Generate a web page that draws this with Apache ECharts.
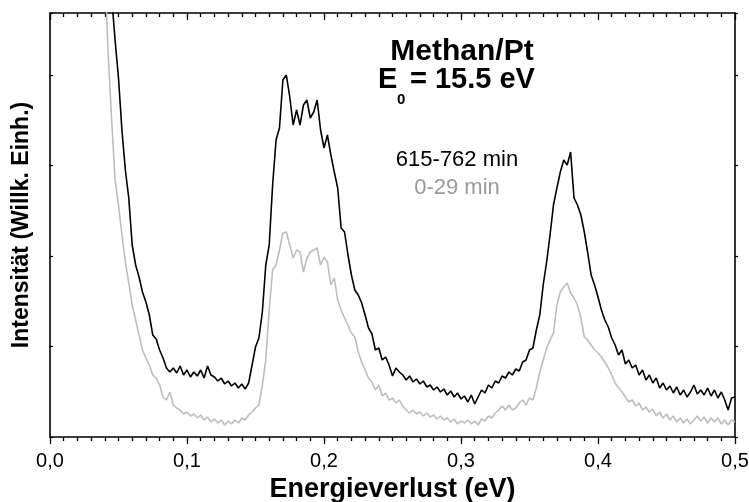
<!DOCTYPE html>
<html>
<head>
<meta charset="utf-8">
<script src="https://cdn.jsdelivr.net/npm/echarts@6/dist/echarts.min.js"></script>
<style>
html,body{margin:0;padding:0;background:#fff;}
#chart{width:749px;height:502px;}
</style>
</head>
<body>
<div id="chart"></div>
<script>
// Energy loss sampling grid (eV): start and step of the channels
const eStart = 0.04;
const eStep = 0.0025;

// Intensity (arb. units), 615-762 min
const late = [
521,481,440,397,359,307,267,239,192,172,
160,145,135,122,102,98,87,79,69,65,
69,64,71,62,67,60,65,61,67,59,
71,62,60,56,59,53,56,51,54,49,
53,48,54,72,90,99,125,172,192,252,
297,309,357,362,340,312,327,312,332,337,
319,325,337,307,289,302,282,265,249,209,
205,182,162,147,142,134,122,109,103,87,
89,77,80,72,61,69,65,62,57,61,
55,58,53,56,50,52,47,50,45,48,
42,46,40,44,38,41,35,42,33,40,
47,44,52,49,56,54,61,59,65,62,
68,66,75,77,87,89,107,122,152,175,
202,232,249,265,277,272,285,239,232,222,
205,184,162,152,140,127,117,110,99,92,
82,87,73,77,69,72,62,67,57,62,
54,59,49,54,47,51,44,50,42,47,
40,45,52,43,47,42,49,41,47,39,
45,37,27,39,40
];

// Intensity (arb. units), 0-29 min
const early = [
467,382,317,257,232,202,175,154,132,117,
102,87,79,72,62,59,52,40,37,45,
32,29,27,23,25,21,23,19,22,17,
20,15,18,14,17,12,16,13,17,14,
19,17,22,25,29,32,52,77,127,167,
172,187,204,205,192,179,187,185,165,179,
185,187,189,172,180,175,152,159,137,127,
119,112,104,100,85,75,67,59,55,47,
52,41,44,37,39,34,37,31,27,24,
27,23,25,21,24,20,22,18,21,17,
19,15,18,13,16,14,17,13,16,12,
18,16,21,19,24,27,31,27,32,27,
29,34,37,32,39,37,49,65,77,89,
97,104,132,145,150,154,144,139,132,119,
100,97,92,87,84,80,75,69,62,54,
49,45,40,35,37,31,34,27,30,25,
28,21,25,19,23,17,21,15,19,14,
18,13,17,21,16,20,14,19,15,19,
13,17,12,17,15
];

function pairs(vals) {
  return vals.map((v, i) => [+(eStart + i * eStep).toFixed(4), v]);
}

const chart = echarts.init(document.getElementById('chart'));
const font = '"Liberation Sans", Arial, Helvetica, sans-serif';

chart.setOption({
  animation: false,
  backgroundColor: '#ffffff',
  grid: { left: 50, right: 14, top: 13, bottom: 65, containLabel: false, outerBoundsMode: 'none' },
  xAxis: [
    {
      type: 'value', min: 0, max: 0.5, interval: 0.1, position: 'bottom',
      name: 'Energieverlust (eV)', nameLocation: 'middle', nameGap: 38,
      nameTextStyle: { fontFamily: font, fontWeight: 'bold', fontSize: 27, color: '#000' },
      axisLine: { show: true, onZero: false, lineStyle: { color: '#000', width: 1.6 } },
      axisTick: { show: true, inside: false, length: 7, lineStyle: { color: '#000', width: 1.3 } },
      minorTick: { show: true, splitNumber: 10, length: 4, lineStyle: { color: '#000', width: 1.3 } },
      splitLine: { show: false },
      axisLabel: {
        margin: 14, fontFamily: font, fontSize: 20, color: '#000',
        formatter: v => v.toFixed(1).replace('.', ',')
      }
    },
    {
      type: 'value', min: 0, max: 0.5, interval: 0.1, position: 'top',
      axisLine: { show: true, onZero: false, lineStyle: { color: '#000', width: 1.6 } },
      axisTick: { show: true, inside: true, length: 7, lineStyle: { color: '#000', width: 1.3 } },
      minorTick: { show: true, splitNumber: 10, length: 4, lineStyle: { color: '#000', width: 1.3 } },
      splitLine: { show: false },
      axisLabel: { show: false }
    }
  ],
  yAxis: [
    {
      type: 'value', min: 0, max: 424, interval: 90.5, position: 'left',
      name: 'Intensität (Willk. Einh.)', nameLocation: 'middle', nameGap: 17,
      nameTextStyle: { fontFamily: font, fontWeight: 'bold', fontSize: 23, color: '#000' },
      axisLine: { show: true, onZero: false, lineStyle: { color: '#000', width: 1.6 } },
      axisTick: { show: true, inside: true, length: 3, lineStyle: { color: '#000', width: 1.2 } },
      splitLine: { show: false },
      axisLabel: { show: false }
    },
    {
      type: 'value', min: 0, max: 424, interval: 90.5, position: 'right',
      axisLine: { show: true, onZero: false, lineStyle: { color: '#000', width: 1.6 } },
      axisTick: { show: true, inside: false, length: 3, lineStyle: { color: '#000', width: 1.2 } },
      splitLine: { show: false },
      axisLabel: { show: false }
    }
  ],
  series: [
    {
      name: '0-29 min', type: 'line', xAxisIndex: 0, yAxisIndex: 0,
      data: pairs(early), showSymbol: false, clip: true,
      lineStyle: { color: '#bdbdbd', width: 1.6 }
    },
    {
      name: '615-762 min', type: 'line', xAxisIndex: 0, yAxisIndex: 0,
      data: pairs(late), showSymbol: false, clip: true,
      lineStyle: { color: '#000000', width: 1.6 }
    }
  ],
  graphic: [
    { type: 'text', x: 462, y: 52, style: { text: 'Methan/Pt', fontFamily: font, fontWeight: 'bold', fontSize: 30, fill: '#000', align: 'center', verticalAlign: 'middle' } },
    { type: 'text', x: 378, y: 80, style: { text: 'E', fontFamily: font, fontWeight: 'bold', fontSize: 29, fill: '#000', align: 'left', verticalAlign: 'middle' } },
    { type: 'text', x: 397, y: 100, style: { text: '0', fontFamily: font, fontWeight: 'bold', fontSize: 15, fill: '#000', align: 'left', verticalAlign: 'middle' } },
    { type: 'text', x: 410, y: 80, style: { text: '= 15.5 eV', fontFamily: font, fontWeight: 'bold', fontSize: 29, fill: '#000', align: 'left', verticalAlign: 'middle' } },
    { type: 'text', x: 457, y: 160, style: { text: '615-762 min', fontFamily: font, fontSize: 22, fill: '#000', align: 'center', verticalAlign: 'middle' } },
    { type: 'text', x: 457, y: 188, style: { text: '0-29 min', fontFamily: font, fontSize: 22, fill: '#999999', align: 'center', verticalAlign: 'middle' } }
  ]
});
</script>
</body>
</html>
